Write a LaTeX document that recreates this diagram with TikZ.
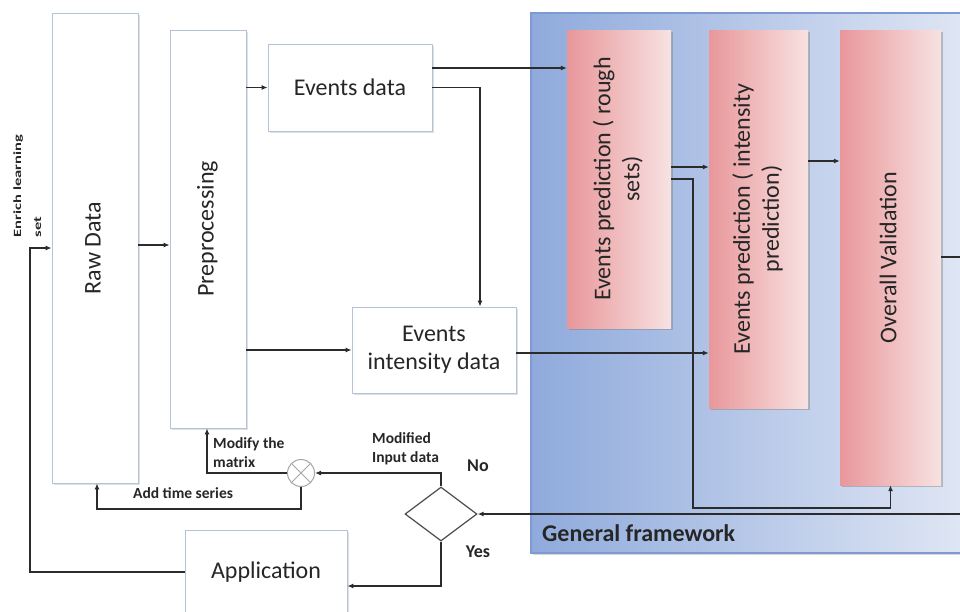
\documentclass[tikz,border=0pt]{standalone}
\usepackage{fontspec}
\setmainfont{Carlito}
\usetikzlibrary{shapes.geometric,arrows.meta,shadows}
\definecolor{fwL}{HTML}{8FAADC}
\definecolor{fwR}{HTML}{E3E9F5}
\definecolor{fwB}{HTML}{7E9AD2}
\definecolor{redL}{HTML}{E8979A}
\definecolor{redR}{HTML}{F8E2E2}
\definecolor{bord}{HTML}{B4C2DA}
\definecolor{lnc}{HTML}{2B2B2B}
\definecolor{txt}{HTML}{262626}
\newcommand{\rottext}[1]{\rotatebox{90}{\begin{tabular}{@{}c@{}}#1\end{tabular}}}
\begin{document}
\begin{tikzpicture}[x=1pt,y=-1pt,
  every node/.style={text=txt},
  wbox/.style={draw=bord, line width=0.8pt, fill=white, inner sep=0pt,
    font=\fontsize{24}{28}\selectfont, align=center,
    drop shadow={shadow xshift=1.5pt,shadow yshift=-1.5pt,opacity=0.25}},
  rbox/.style={draw=none, left color=redL, right color=redR, inner sep=0pt,
    font=\fontsize{24}{29}\selectfont,
    drop shadow={shadow xshift=2pt,shadow yshift=-2pt,opacity=0.45}},
  lab/.style={font=\bfseries\fontsize{15.5}{19}\selectfont, inner sep=0pt, align=left},
  arr/.style={draw=lnc, line width=1.6pt, -{Latex[length=6pt,width=5pt]}},
]
\useasboundingbox (0,0) rectangle (960,611);

% general framework
\node[draw=fwB, line width=1.2pt, left color=fwL, right color=fwR, inner sep=0pt,
      minimum width=454pt, minimum height=540pt,
      drop shadow={shadow xshift=1.5pt,shadow yshift=-1.5pt,opacity=0.3}] (fw) at (758,283) {};
\node[font=\bfseries\fontsize{24}{28}\selectfont, anchor=base west, inner sep=0pt] (lgf) at (542,541) {General framework};

% white boxes
\node[wbox, minimum width=86pt, minimum height=470pt] (raw) at (95,248) {\rottext{Raw Data}};
\node[wbox, minimum width=76pt, minimum height=398pt] (pre) at (208,229) {\rottext{Preprocessing}};
\node[wbox, minimum width=164pt, minimum height=87pt] (ed) at (350,87.5) {Events data};
\node[wbox, minimum width=164pt, minimum height=86pt] (eid) at (434,350) {Events\\intensity data};
\node[wbox, minimum width=162pt, minimum height=84pt] (app) at (266,572) {Application};

% red boxes
\node[rbox, minimum width=104pt, minimum height=298pt] (rs) at (619,179) {\rottext{Events prediction ( rough\\sets)}};
\node[rbox, minimum width=99pt, minimum height=378pt] (ip) at (758.5,219) {\rottext{Events prediction ( intensity\\prediction)}};
\node[rbox, minimum width=101pt, minimum height=455pt] (ov) at (890.5,257.5) {\rottext{Overall Validation}};

% decision and mixer
\node[diamond, draw=lnc!85, line width=1.2pt, fill=white, inner sep=0pt,
      minimum width=72pt, minimum height=54pt] (dia) at (441,514) {};
\node[circle, draw=black!35, line width=1pt, fill=white, inner sep=0pt, minimum size=27pt] (mix) at (301,473) {};
\draw[black!35, line width=1pt] (mix.north west) -- (mix.south east) (mix.north east) -- (mix.south west);

% connectors
\coordinate (enr) at (30,248);
\draw[arr] (app.west) -| (enr) -- (raw.west |- enr);
\draw[arr] (raw.east |- 0,245) -- (pre.west |- 0,245);
\draw[arr] (pre.east |- ed.west) -- (ed.west);
\draw[arr] (ed.east |- 0,68) -- (rs.west |- 0,68);
\draw[arr] (ed.east) -| (eid.north -| 480,0);
\draw[arr] (pre.east |- eid.west) -- (eid.west);
\draw[arr] (eid.east |- 0,353) -- (ip.west |- 0,353);
\draw[arr] (rs.east |- 0,167) -- (ip.west |- 0,167);
\draw[arr] (rs.east |- 0,179) -| (693,508) -| (ov.south);
\draw[arr] (ip.east |- 0,161) -- (ov.west |- 0,161);
\draw[arr] (ov.east |- 0,257) -- (990,257) |- (dia.east);
\draw[arr] (dia.north) |- (mix.east);
\draw[arr] (mix.west) -| (pre.south -| 207,0);
\draw[arr] (mix.south) |- (97,509) -- (raw.south -| 97,0);
\draw[arr] (dia.south) |- (app.east |- 0,586);

% labels
\node[inner sep=0pt] (lenr) at (27,186) {\rotatebox{90}{\bfseries\fontsize{11}{20}\selectfont\begin{tabular}{@{}l@{}}\scalebox{1.5}[1]{Enrich learning}\\\scalebox{1.5}[1]{set}\end{tabular}}};
\node[lab, anchor=north west] (lmod) at (213,437) {Modify the\\matrix};
\node[lab, anchor=north west] (lmid) at (372,432) {Modified\\Input data};
\node[lab, anchor=base west] (lats) at (133,498) {Add time series};
\node[font=\bfseries\fontsize{18}{22}\selectfont, inner sep=0pt] (lno) at (478,466) {No};
\node[font=\bfseries\fontsize{18}{22}\selectfont, inner sep=0pt] (lyes) at (478,552) {Yes};
\end{tikzpicture}
\end{document}
